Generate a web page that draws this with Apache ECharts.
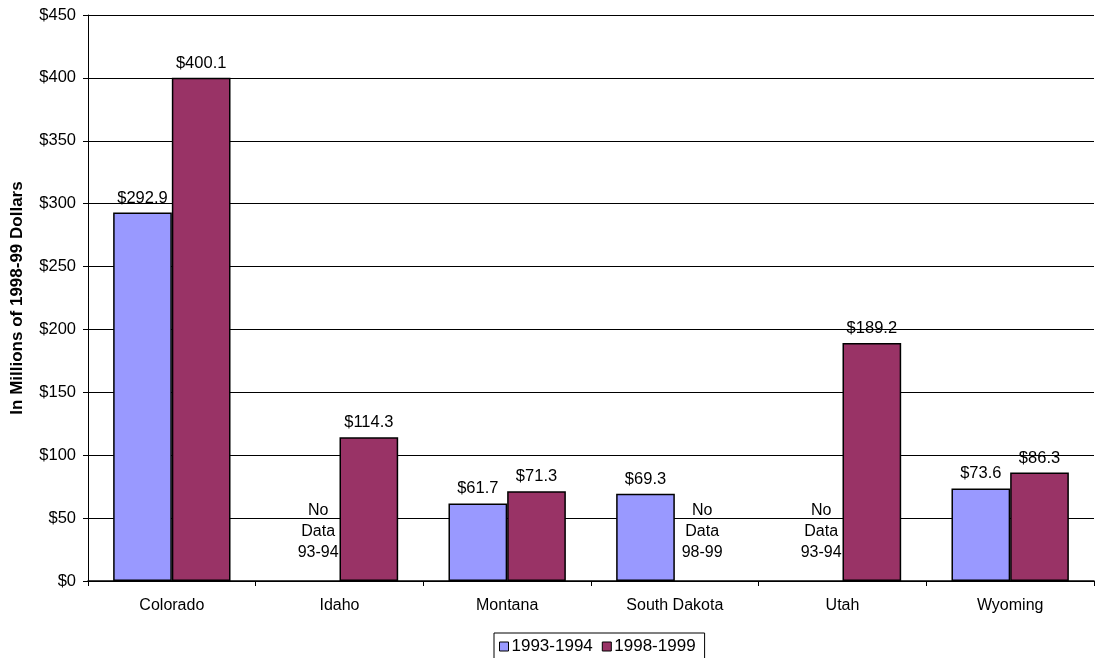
<!DOCTYPE html>
<html>
<head>
<meta charset="utf-8">
<script src="https://cdn.jsdelivr.net/npm/echarts@6/dist/echarts.min.js"></script>
<style>
  html, body { margin: 0; padding: 0; background: #fff; }
  #chart { width: 1099px; height: 658px; }
</style>
</head>
<body>
<div id="chart"></div>
<script>
const categories = ['Colorado', 'Idaho', 'Montana', 'South Dakota', 'Utah', 'Wyoming'];
const seriesNames = ['1993-1994', '1998-1999'];
const values9394 = [292.9, null, 61.7, 69.3, null, 73.6];
const values9899 = [400.1, 114.3, 71.3, null, 189.2, 86.3];
const missingText9394 = 'No\nData\n93-94';
const missingText9899 = 'No\nData\n98-99';
const yTicks = { min: 0, max: 450, interval: 50 };

const FONT = 'Liberation Sans, Arial, sans-serif';

// Missing years get an empty bar slot carrying a "No Data" note
function buildData(values, missingText, offsetX) {
  return values.map(v => {
    if (v === null) {
      return {
        value: 0,
        itemStyle: { color: 'transparent', borderWidth: 0 },
        label: {
          show: true,
          position: 'top',
          distance: 18,
          offset: [offsetX, 0],
          formatter: missingText,
          lineHeight: 21,
          fontSize: 16,
          color: '#000',
          fontFamily: FONT
        }
      };
    }
    return { value: v };
  });
}

const chart = echarts.init(document.getElementById('chart'), null, { renderer: 'canvas' });

const barLabel = {
  show: true,
  position: 'top',
  distance: 6,
  color: '#000',
  fontSize: 16.5,
  fontFamily: FONT,
  formatter: p => '$' + Number(p.value).toFixed(1)
};

chart.setOption({
  animation: false,
  backgroundColor: '#fff',
  textStyle: { fontFamily: FONT },
  grid: { left: 88, right: 5, top: 15, bottom: 77, containLabel: false, outerBoundsMode: 'none' },
  legend: {
    data: seriesNames,
    left: 494,
    top: 633,
    padding: [5, 9, 12, 5],
    borderColor: '#000',
    borderWidth: 1,
    itemWidth: 9,
    itemHeight: 9,
    itemGap: 9,
    icon: 'rect',
    textStyle: { fontSize: 17, color: '#000', fontFamily: FONT, padding: [0, 0, 0, -2] },
    itemStyle: { borderColor: '#000', borderWidth: 1 }
  },
  xAxis: {
    type: 'category',
    data: categories,
    axisLine: { lineStyle: { color: '#000', width: 1.5 } },
    axisTick: { show: true, inside: false, length: 5, alignWithLabel: false, lineStyle: { color: '#000' } },
    axisLabel: { color: '#000', fontSize: 16, margin: 17, fontFamily: FONT }
  },
  yAxis: {
    type: 'value',
    min: yTicks.min,
    max: yTicks.max,
    interval: yTicks.interval,
    name: 'In Millions of 1998-99 Dollars',
    nameLocation: 'middle',
    nameRotate: 90,
    nameGap: 62,
    nameTextStyle: { fontSize: 17, fontWeight: 'bold', color: '#000', fontFamily: FONT },
    axisLine: { show: true, lineStyle: { color: '#000', width: 1 } },
    axisTick: { show: true, length: 5, lineStyle: { color: '#000' } },
    axisLabel: { color: '#000', fontSize: 16.5, margin: 12, fontFamily: FONT, formatter: v => '$' + v },
    splitLine: { show: true, lineStyle: { color: '#000', width: 1 } }
  },
  series: [
    {
      name: seriesNames[0],
      type: 'bar',
      data: buildData(values9394, missingText9394, 8),
      barGap: '0%',
      barCategoryGap: '30%',
      itemStyle: { color: '#9999FF', borderColor: '#000', borderWidth: 1.5 },
      label: barLabel
    },
    {
      name: seriesNames[1],
      type: 'bar',
      data: buildData(values9899, missingText9899, -2),
      barGap: '0%',
      barCategoryGap: '30%',
      itemStyle: { color: '#993366', borderColor: '#000', borderWidth: 1.5 },
      label: barLabel
    }
  ]
});
</script>
</body>
</html>
